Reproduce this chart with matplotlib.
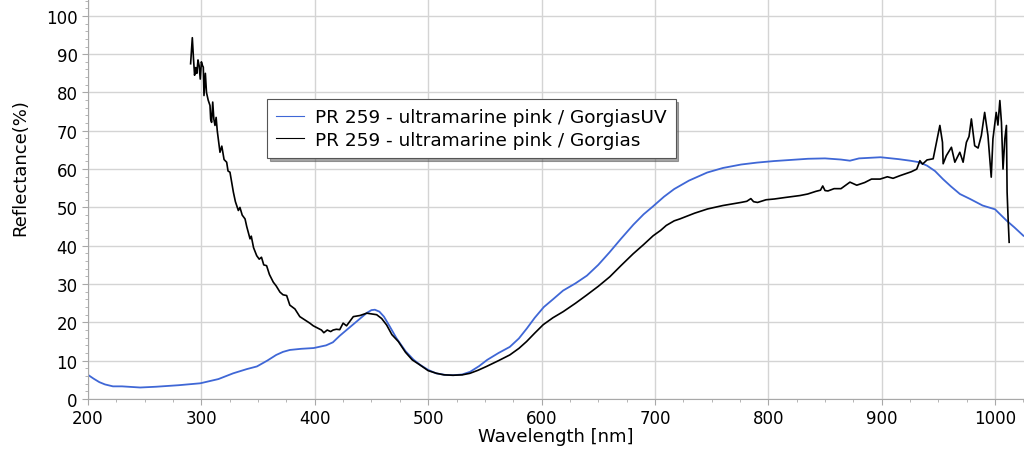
import numpy as np
import matplotlib.pyplot as plt
from matplotlib.ticker import MultipleLocator

# Reflectance spectra
uv_wl = [200, 205, 210, 215, 222, 230, 246, 260, 280, 299, 315, 328, 340, 349, 358,
         366, 372, 378, 388, 399, 410, 416, 422, 428, 434, 440, 446, 450, 453, 457,
         461, 466, 472, 480, 487, 493, 500, 507, 515, 522, 530, 537, 545, 552, 562,
         572, 580, 587, 594, 602, 610, 619, 630, 640, 650, 660, 670, 681, 690, 698,
         708, 717, 730, 746, 760, 776, 790, 805, 820, 835, 850, 864, 872, 880, 899,
         915, 925, 933, 940, 947, 954, 961, 969, 978, 989, 1000, 1010, 1017, 1025]
uv_refl = [6.3, 5.3, 4.4, 3.8, 3.3, 3.3, 3.0, 3.2, 3.6, 4.1, 5.2, 6.7, 7.8, 8.5, 10.0,
           11.5, 12.3, 12.8, 13.1, 13.3, 14.0, 14.8, 16.5, 18.0, 19.5, 21.0, 22.5, 23.2, 23.3, 22.8,
           21.5, 19.0, 15.9, 12.5, 10.3, 8.9, 7.6, 6.7, 6.3, 6.2, 6.4, 7.1, 8.6, 10.2, 12.0,
           13.6, 15.8, 18.4, 21.2, 24.0, 26.0, 28.3, 30.2, 32.2, 35.0, 38.3, 41.8, 45.5, 48.2, 50.2,
           52.8, 54.8, 57.0, 59.1, 60.3, 61.2, 61.7, 62.1, 62.4, 62.7, 62.8, 62.5, 62.2, 62.8, 63.1,
           62.6, 62.2, 61.8, 60.9, 59.5, 57.4, 55.5, 53.5, 52.2, 50.5, 49.5, 46.6, 44.8, 42.6]

vis_wl = [290.5, 291.5, 292, 293, 294, 295, 296, 297, 298, 299, 300, 301, 301.7, 302.3,
          303.5, 304.5, 306, 307.6, 308.2, 309, 310, 311, 312, 313, 314, 316.4, 318, 320,
          322.3, 323.5, 325.2, 326.5, 328.2, 330, 332.6, 334, 336, 338.5, 340, 342.9, 344,
          346, 348.8, 351, 353, 355, 357.5, 360, 363.4, 366, 369.3, 372, 375.2, 378, 382.5,
          386.8, 389.9, 395.6, 398.7, 402, 405.9, 408, 411, 414, 416.2, 419, 422, 425, 428,
          431, 434, 440, 445.8, 450, 454.6, 459, 463.4, 468, 473.7, 480, 486, 492.7, 500,
          507.4, 514, 522, 530, 536.8, 544, 551.5, 562, 572, 580, 586.8, 594, 601.5, 610,
          619.1, 630, 639.7, 650, 660.2, 670, 680.8, 690, 698.4, 705, 710, 717, 722, 735,
          746.4, 760, 775.8, 781, 784.6, 787, 790.5, 798, 805.3, 815, 827.9, 834.7, 842, 846,
          848, 850, 852.6, 858, 864.1, 872, 878, 885, 891, 898.6, 905, 910, 916.2, 921, 926,
          930.9, 933.7, 936, 940, 945.4, 948.3, 951.3, 953.6, 954.2, 957, 961.5, 964.5, 968.9,
          971.8, 974.7, 977, 979.1, 982, 985, 987.9, 990.8, 993.7, 995, 996.6, 998.1, 1001,
          1002.5, 1004.2, 1005.6, 1007, 1008.6, 1010, 1010.6, 1011.5, 1012.4]
vis_refl = [87.5, 92, 94.3, 89, 84.5, 86.5, 85, 88.5, 87, 83.5, 88, 87, 86.6, 79.2,
            85, 80, 78, 76.6, 73, 72.2, 77.5, 73, 71.4, 73.5, 70, 64.4, 66, 62.5,
            61.8, 59.5, 59.2, 57, 54, 51.5, 49.2, 50, 48, 47, 45, 41.8, 42.5,
            39.5, 37.4, 36.5, 37, 35, 34.8, 32.5, 30.5, 29.5, 27.9, 27.2, 27, 24.5, 23.5,
            21.5, 20.9, 19.8, 19.1, 18.6, 18, 17.3, 18.0, 17.6, 18, 18.2, 18.1, 19.8, 19.1,
            20.3, 21.5, 21.8, 22.4, 22.2, 22, 21, 19.3, 16.8, 15, 12.2, 10.2, 8.9, 7.4,
            6.7, 6.3, 6.2, 6.3, 6.7, 7.5, 8.5, 10, 11.5, 13.2, 15, 17.2, 19.4, 21.2,
            22.8, 25, 27.1, 29.4, 31.9, 34.8, 37.9, 40.3, 42.6, 44, 45.3, 46.5, 47, 48.5,
            49.6, 50.5, 51.3, 51.6, 52.3, 51.5, 51.3, 52.0, 52.2, 52.6, 53.1, 53.5, 54.2, 54.5,
            55.6, 54.4, 54.3, 54.9, 54.9, 56.6, 55.8, 56.5, 57.4, 57.4, 58.0, 57.6, 58.3, 58.8, 59.3,
            60.0, 62.2, 61.3, 62.4, 62.7, 67, 71.4, 67, 61.4, 63.5, 65.7, 61.8, 64.4,
            61.8, 67, 68.5, 73.1, 66.1, 65.5, 68.8, 74.8, 68.8, 64, 57.9, 67.9, 74.8,
            71.5, 77.9, 72.2, 60, 67.9, 71.4, 54, 47, 40.9]

fig = plt.figure(figsize=(10.24, 4.64), dpi=100)
ax = fig.add_axes([88/1024, 64/464, 936/1024, 400/464])

ax.plot(uv_wl, uv_refl, color='#3f67d6', lw=1.3, label='PR 259 - ultramarine pink / GorgiasUV')
ax.plot(vis_wl, vis_refl, color='black', lw=1.2, label='PR 259 - ultramarine pink / Gorgias')

ax.set_xlim(200, 1025.5)
ax.set_ylim(0, 104.4)
ax.xaxis.set_major_locator(MultipleLocator(100))
ax.xaxis.set_minor_locator(MultipleLocator(25))
ax.yaxis.set_major_locator(MultipleLocator(10))
ax.yaxis.set_minor_locator(MultipleLocator(2))
ax.grid(True, which='major', color='#d4d4d4', lw=1.0)
ax.set_axisbelow(True)

for s in ['top', 'right']:
    ax.spines[s].set_visible(False)
for s in ['left', 'bottom']:
    ax.spines[s].set_color('#a8a8a8')
ax.tick_params(which='both', colors='#a8a8a8', labelcolor='black', labelsize=12, direction='out')
ax.tick_params(which='major', length=4)
ax.tick_params(which='minor', length=2.5)

ax.set_xlabel('Wavelength [nm]', fontsize=13, labelpad=0)
ax.set_ylabel('Reflectance(%)', fontsize=13)
ax.yaxis.set_label_coords(-0.063, 0.58)

leg = ax.legend(loc='upper left', bbox_to_anchor=(0.191, 0.75), borderaxespad=0,
                fontsize=13.3, fancybox=False, shadow=True, handlelength=1.5,
                handletextpad=0.6, labelspacing=0.25, borderpad=0.5, framealpha=1)
leg.get_frame().set_edgecolor('#555555')
leg.get_frame().set_linewidth(0.8)
for h in leg.get_lines():
    h.set_linewidth(0.8)

fig.savefig('out.png', dpi=100)
